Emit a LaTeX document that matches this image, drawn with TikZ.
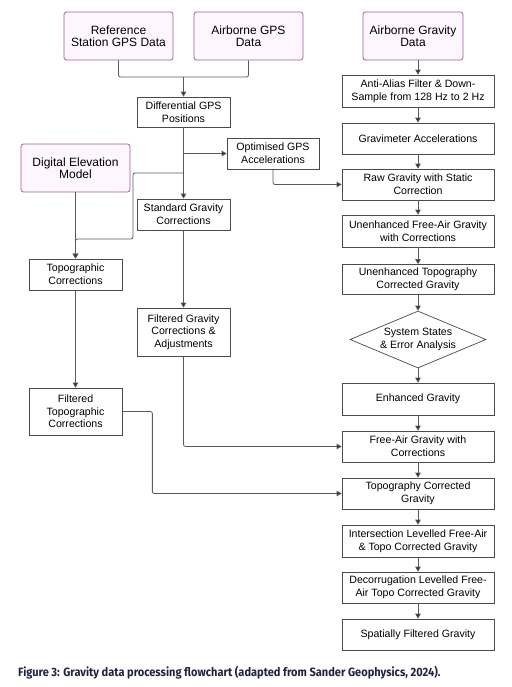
\documentclass[tikz,border=0pt]{standalone}
\usepackage{fontspec}
\setmainfont{Liberation Sans}
\newfontfamily\capfont[FakeStretch=0.92]{Fira Sans}
\usepackage{tikz}
\usetikzlibrary{shapes.geometric,arrows.meta,positioning,calc}
\usepackage{xcolor}
\definecolor{SourceEdge}{HTML}{A25A9E}
\definecolor{SourceFill}{HTML}{FDF6FC}
\definecolor{BoxEdge}{HTML}{4A4A4A}
\definecolor{LinkGray}{HTML}{5A5A5A}
\definecolor{TipDark}{HTML}{2E2E2E}
\definecolor{CaptionInk}{HTML}{1E2340}

\begin{document}
\begin{tikzpicture}[x=1pt, y=-1pt,
    source/.style={draw=SourceEdge, fill=SourceFill, rounded corners=2.5pt, line width=0.8pt, align=center, inner sep=0pt, minimum width=109pt, minimum height=48pt, font=\fontsize{12}{12.5}\selectfont},
    proc/.style={draw=BoxEdge, fill=white, line width=0.7pt, align=center, inner sep=0pt, minimum width=93pt, minimum height=31pt, font=\fontsize{10.6}{12.7}\selectfont},
    wide/.style={proc, minimum width=152pt},
    decide/.style={draw=BoxEdge, fill=white, line width=0.7pt, diamond, aspect=2.4, align=center, inner sep=-3pt, minimum width=136pt, minimum height=57pt, font=\fontsize{10.6}{12.7}\selectfont},
    link/.style={draw=LinkGray, line width=0.8pt, rounded corners=2pt},
    arr/.style={link, -{Triangle[length=5pt, width=5.5pt, fill=TipDark]}}
  ]
    \useasboundingbox (0,0) rectangle (511,687);

    % data sources
    \node[source] (ref) at (118.5, 36) {Reference\\Station GPS Data};
    \node[source] (agps) at (248.5, 36) {Airborne GPS\\Data};
    \node[source, minimum width=100pt] (agrav) at (413, 36) {Airborne Gravity\\Data};
    \node[source] (dem) at (75.5, 168) {Digital Elevation\\Model};

    % GPS and correction branch
    \node[proc, minimum height=30pt] (dgps) at (183.5, 112) {Differential GPS\\Positions};
    \node[proc, minimum width=92pt] (ogps) at (273, 153.5) {Optimised GPS\\Accelerations};
    \node[proc] (sgc) at (183.5, 214.5) {Standard Gravity\\Corrections};
    \node[proc] (topo) at (75.5, 274.5) {Topographic\\Corrections};
    \node[proc, minimum height=48pt] (fgc) at (183.5, 332) {Filtered Gravity\\Corrections \&\\Adjustments};
    \node[proc, minimum height=47pt] (ftopo) at (75.5, 411.5) {Filtered\\Topographic\\Corrections};

    % gravity chain
    \node[wide, minimum height=32pt] (aa) at (418, 91) {Anti-Alias Filter \& Down-\\Sample from 128 Hz to 2 Hz};
    \node[wide] (gacc) at (418, 138.5) {Gravimeter Accelerations};
    \node[wide] (raw) at (418, 184.5) {Raw Gravity with Static\\Correction};
    \node[wide, minimum height=32pt] (ufa) at (418, 231) {Unenhanced Free-Air Gravity\\with Corrections};
    \node[wide, minimum height=30pt] (utc) at (418, 279.5) {Unenhanced Topography\\Corrected Gravity};
    \node[decide] (sse) at (418, 339.5) {System States\\\& Error Analysis};
    \node[wide, minimum height=32pt] (enh) at (418, 399) {Enhanced Gravity};
    \node[wide] (fa) at (418, 446.5) {Free-Air Gravity with\\Corrections};
    \node[wide] (tc) at (418, 493.5) {Topography Corrected\\Gravity};
    \node[wide, minimum height=32pt] (ilev) at (418, 541) {Intersection Levelled Free-Air\\\& Topo Corrected Gravity};
    \node[wide] (dlev) at (418, 587.5) {Decorrugation Levelled Free-\\Air Topo Corrected Gravity};
    \node[wide] (sfg) at (418, 634.5) {Spatially Filtered Gravity};

    \node[anchor=west, text=CaptionInk, inner sep=0pt, font=\capfont\bfseries\fontsize{12}{14}\selectfont] (cap) at (18, 673) {Figure 3: Gravity data processing flowchart (adapted from Sander Geophysics, 2024).};

    % connectors
    \coordinate (gpsjoin) at (183.5, 77);
    \draw[link] (ref.south) |- (gpsjoin) -| (agps.south);
    \draw[arr] (gpsjoin) -- (dgps.north);
    \draw[arr] (dgps) -- (sgc);
    \draw[arr] (dgps.south |- ogps.west) -- (ogps.west);
    \draw[arr] (dgps.south |- 0,173) -| (133,239) -| (topo.north);
    \draw[arr] (dem) -- (topo);
    \draw[arr] (ogps.south) |- (raw.west);
    \draw[arr] (sgc) -- (fgc);
    \draw[arr] (fgc.south) |- (fa.west);
    \draw[arr] (topo) -- (ftopo);
    \draw[arr] (ftopo.east) -- ++(30,0) |- (tc.west);
    \draw[arr] (agrav.south -| aa.north) -- (aa.north);
    \foreach \a/\b in {aa/gacc, gacc/raw, raw/ufa, ufa/utc, utc/sse, sse/enh, enh/fa, fa/tc, tc/ilev, ilev/dlev, dlev/sfg}
      \draw[arr] (\a) -- (\b);
\end{tikzpicture}
\end{document}
